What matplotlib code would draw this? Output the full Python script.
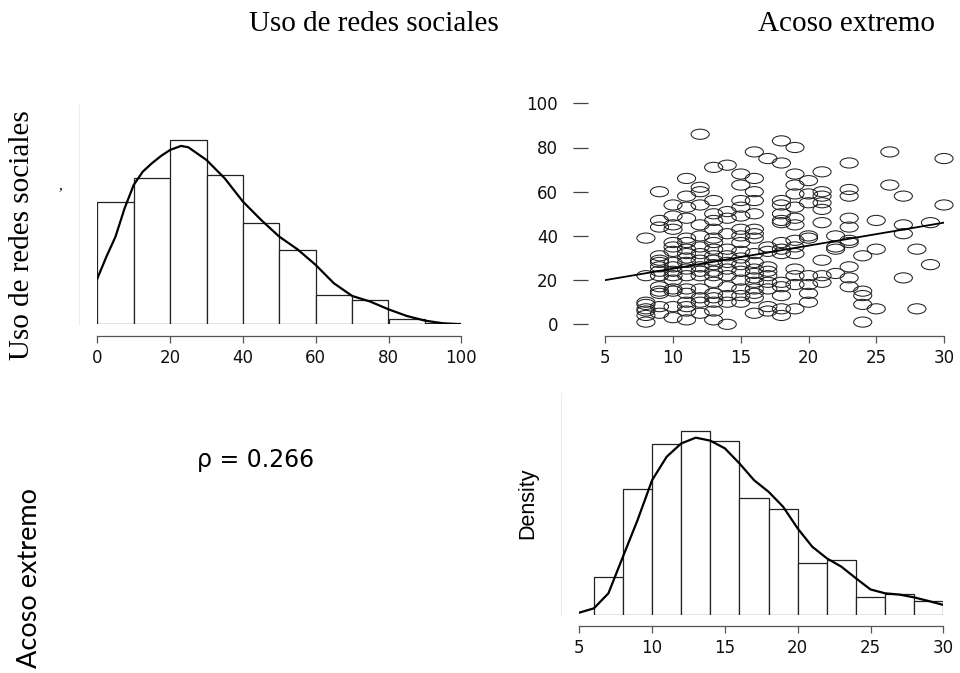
import numpy as np
import matplotlib
matplotlib.use('Agg')
import matplotlib.pyplot as plt
from matplotlib.path import Path
from matplotlib.transforms import Affine2D

# --- data ---
# Uso de redes sociales: histogram (density) and kernel density curve
redes_edges = [0, 10, 20, 30, 40, 50, 60, 70, 80, 90, 100]
redes_dens = [0.0146, 0.0175, 0.0220, 0.0178, 0.0121, 0.0089, 0.0035, 0.0029, 0.0006, 0.0001]
redes_kde_x = [0, 2.5, 5, 7.5, 10, 12.5, 15, 17.5, 20, 23, 25, 30, 35, 40, 45, 50, 55, 60, 65,
               70, 75, 80, 85, 90, 95, 100]
redes_kde_y = [0.00546, 0.00808, 0.01047, 0.01386, 0.01665, 0.01824, 0.01924, 0.02011, 0.02083,
               0.02131, 0.02115, 0.01963, 0.01744, 0.01466, 0.01247, 0.01047, 0.00896, 0.00709,
               0.0049, 0.00339, 0.00271, 0.00179, 0.001, 0.00044, 0.00012, 0.0]

# Acoso extremo: histogram (density) and kernel density curve
acoso_edges = [6, 8, 10, 12, 14, 16, 18, 20, 22, 24, 26, 28, 30]
acoso_dens = [0.0175, 0.0588, 0.0795, 0.0858, 0.0809, 0.0543, 0.0495, 0.0241, 0.0254, 0.0082, 0.0096, 0.0064]
acoso_kde_x = [5, 6, 7, 8, 9, 10, 11, 12, 13, 14, 15, 16, 17, 18, 19, 20, 21, 22, 23, 24, 25, 26, 27, 28, 29, 30]
acoso_kde_y = [0.0011, 0.0031, 0.0101, 0.0272, 0.0442, 0.0628, 0.0737, 0.0799, 0.0826, 0.0812, 0.0776,
               0.0706, 0.0628, 0.0574, 0.0504, 0.0403, 0.0318, 0.0264, 0.0225, 0.0171, 0.0119, 0.0101,
               0.0095, 0.0082, 0.0065, 0.0047]

# scatter: acoso extremo (x) vs uso de redes sociales (y), grouped by x value
acoso_cols = [8, 9, 10, 11, 12, 13, 14, 15, 16, 17, 18, 19, 20, 21, 22, 23, 24, 25, 26, 27, 28, 29, 30]
redes_by_col = [
    [39, 22, 10, 9, 7, 6, 4, 1],
    [60, 47, 44, 31, 29, 28, 26, 24, 22, 17, 15, 14, 8, 5],
    [54, 49, 45, 43, 37, 35, 33, 28, 26, 24, 22, 20, 16, 15, 8, 3],
    [66, 58, 53, 48, 39, 37, 34, 32, 30, 28, 25, 22, 16, 14, 10, 8, 6, 2],
    [86, 62, 60, 54, 45, 40, 35, 32, 29, 26, 24, 22, 16, 12, 10, 5],
    [71, 56, 50, 47, 43, 39, 37, 34, 31, 29, 27, 24, 22, 19, 14, 12, 10, 6, 2],
    [72, 51, 48, 41, 34, 31, 28, 25, 22, 17, 13, 10, 0],
    [68, 63, 56, 53, 49, 43, 40, 37, 33, 30, 27, 24, 20, 16, 13, 10],
    [78, 66, 60, 56, 50, 43, 41, 39, 32, 28, 25, 23, 21, 19, 16, 14, 12, 5],
    [75, 35, 33, 26, 24, 22, 19, 16, 8, 6],
    [83, 73, 56, 54, 50, 47, 46, 37, 34, 32, 19, 17, 13, 7, 4],
    [80, 68, 63, 59, 53, 48, 45, 38, 35, 32, 25, 22, 18, 7],
    [65, 59, 55, 40, 39, 22, 18, 14, 10],
    [69, 60, 58, 55, 52, 46, 29, 22, 19],
    [40, 35, 34, 23],
    [73, 61, 58, 48, 44, 38, 37, 26, 21, 17],
    [31, 15, 13, 9, 1],
    [47, 34, 7],
    [78, 63],
    [58, 45, 41, 21],
    [34, 7],
    [46, 27],
    [75, 54],
]
fit_intercept = 14.8   # regression line
fit_slope = 1.04
rho_text = 'ρ = 0.266'

W, H = 960, 673
fig = plt.figure(figsize=(W / 100, H / 100), dpi=100)


def px_axes(x0, x1, ytop, ybot):
    return fig.add_axes([x0 / W, 1 - ybot / H, (x1 - x0) / W, (ybot - ytop) / H])


tick_font = dict(family='DejaVu Sans', size=12)
axis_col = '#555555'


def style_xaxis(ax, lo, hi, ticks, outward):
    for s in ['top', 'right']:
        ax.spines[s].set_visible(False)
    ax.spines['bottom'].set_position(('outward', outward))
    ax.spines['bottom'].set_bounds(lo, hi)
    ax.spines['bottom'].set_color(axis_col)
    ax.spines['bottom'].set_linewidth(0.9)
    ax.set_xticks(ticks)
    ax.tick_params(axis='x', direction='out', length=5, width=0.9, color=axis_col, pad=4.5)
    for lab in ax.get_xticklabels():
        lab.set_fontfamily(tick_font['family'])
        lab.set_fontsize(tick_font['size'])
        lab.set_color('#111111')


def ghost_yaxis(ax, outward):
    ax.spines['left'].set_position(('outward', outward))
    ax.spines['left'].set_color('#ececec')
    ax.spines['left'].set_linewidth(0.8)
    ax.set_yticks([])


# top-left: histogram of Uso de redes sociales
ax1 = px_axes(97.3, 461.3, 105, 324.3)
ax1.bar(redes_edges[:-1], redes_dens, width=np.diff(redes_edges), align='edge',
        facecolor='white', edgecolor='#222222', linewidth=0.9)
ax1.plot(redes_kde_x, redes_kde_y, color='black', linewidth=1.6)
ax1.set_xlim(0, 100)
ax1.set_ylim(0, 0.0262)
style_xaxis(ax1, 0, 100, [0, 20, 40, 60, 80, 100], 8.2)
ghost_yaxis(ax1, 13.2)

# top-right: scatter with regression line
ax2 = px_axes(605.3, 944, 103.3, 324.3)
ell = Path.unit_circle().transformed(Affine2D().scale(1.0, 0.56))
sx = np.repeat(acoso_cols, [len(c) for c in redes_by_col])
sy = np.concatenate([np.array(c, dtype=float) for c in redes_by_col])
ax2.scatter(sx, sy, s=170, marker=ell, facecolors='none', edgecolors='#222222',
            linewidths=0.75, clip_on=False)
lx = np.array([5, 30])
ax2.plot(lx, fit_intercept + fit_slope * lx, color='black', linewidth=1.3)
ax2.set_xlim(5, 30)
ax2.set_ylim(0, 100)
style_xaxis(ax2, 5, 30, [5, 10, 15, 20, 25, 30], 8.2)
ax2.spines['left'].set_visible(False)
ax2.set_yticks([0, 20, 40, 60, 80, 100])
ax2.tick_params(axis='y', direction='out', length=10.8, width=0.9, color='#444444', pad=11)
ax2.spines['left'].set_position(('outward', 12.2))
tick_cols = ['#333333', '#999999', '#eeeeee', '#cccccc', '#777777', '#333333']
for t, c in zip(ax2.yaxis.get_major_ticks(), tick_cols):
    t.tick1line.set_color(c)
for lab in ax2.get_yticklabels():
    lab.set_fontfamily(tick_font['family'])
    lab.set_fontsize(tick_font['size'])
    lab.set_color('#111111')

# bottom-right: histogram of Acoso extremo
ax3 = px_axes(579.3, 943.3, 393, 615)
ax3.bar(acoso_edges[:-1], acoso_dens, width=np.diff(acoso_edges), align='edge',
        facecolor='white', edgecolor='#222222', linewidth=0.9)
ax3.plot(acoso_kde_x, acoso_kde_y, color='black', linewidth=1.6)
ax3.set_xlim(5, 30)
ax3.set_ylim(0, 0.1034)
style_xaxis(ax3, 5, 30, [5, 10, 15, 20, 25, 30], 7.9)
ghost_yaxis(ax3, 13.2)

# labels
serif = ['Liberation Serif', 'DejaVu Serif']
fig.text(374 / W, 1 - 24 / H, 'Uso de redes sociales', family=serif, fontsize=21,
         ha='center', va='center')
fig.text(846 / W, 1 - 24 / H, 'Acoso extremo', family=serif, fontsize=21,
         ha='center', va='center')
fig.text(22 / W, 1 - 235 / H, 'Uso de redes sociales', family=serif, fontsize=21,
         ha='center', va='center', rotation=90)
fig.text(60 / W, 1 - 186 / H, ',', family=serif, fontsize=11, ha='center', va='center')
fig.text(30 / W, 1 - 578 / H, 'Acoso extremo', family=['Lato', 'DejaVu Sans'], fontsize=19.5,
         ha='center', va='center', rotation=90)
fig.text(256 / W, 1 - 460 / H, rho_text, family=['DejaVu Sans'], fontsize=17,
         ha='center', va='center')
fig.text(528 / W, 1 - 503 / H, 'Density', family=['Liberation Sans Narrow', 'Liberation Sans'],
         fontsize=15.5, ha='center', va='center', rotation=90)

fig.savefig('out.png', dpi=100)
plt.close(fig)
